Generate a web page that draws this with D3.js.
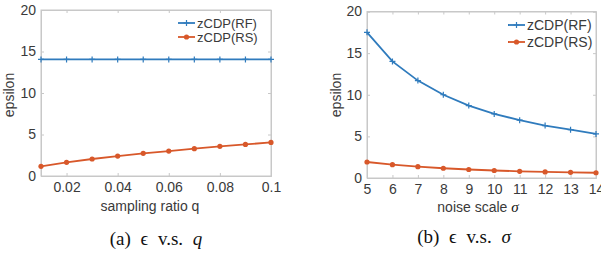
<!DOCTYPE html>
<html>
<head>
<meta charset="utf-8">
<script src="https://cdn.jsdelivr.net/npm/d3@7"></script>
<style>
  body { margin: 0; background: #fff; }
  text { font-family: "Liberation Sans", Arial, sans-serif; fill: #3a3a3a; }
  .cap { font-family: "Liberation Serif", "Times New Roman", serif; fill: #111; }
</style>
</head>
<body>
<div id="chart"></div>
<script>
// Data
var samplingRatio = [0.01, 0.02, 0.03, 0.04, 0.05, 0.06, 0.07, 0.08, 0.09, 0.1];
var rfByRatio = [14.05, 14.05, 14.05, 14.05, 14.05, 14.05, 14.05, 14.05, 14.05, 14.05];
var rsByRatio = [1.17, 1.65, 2.05, 2.4, 2.73, 3.0, 3.29, 3.57, 3.8, 4.05];

var noiseScale = [5, 6, 7, 8, 9, 10, 11, 12, 13, 14];
var rfByNoise = [17.5, 14.0, 11.7, 10.0, 8.7, 7.7, 6.95, 6.3, 5.8, 5.3];
var rsByNoise = [1.92, 1.6, 1.36, 1.17, 1.02, 0.9, 0.8, 0.73, 0.68, 0.63];

var ratioTicks = [0.02, 0.04, 0.06, 0.08, 0.1];
var yTicks = [0, 5, 10, 15, 20];
var seriesNames = ["zCDP(RF)", "zCDP(RS)"];

var blue = "#2f7bbd";
var orange = "#d8582a";

var svg = d3.select("#chart")
  .append("svg")
  .attr("width", 601)
  .attr("height", 256);

function drawPanel(opt) {
  var x = d3.scaleLinear().domain(opt.xDomain).range([opt.left, opt.right]);
  var y = d3.scaleLinear().domain([0, 20]).range([opt.bottom, opt.top]);
  var g = svg.append("g");

  // box
  g.append("rect")
    .attr("x", opt.left).attr("y", opt.top)
    .attr("width", opt.right - opt.left).attr("height", opt.bottom - opt.top)
    .attr("fill", "none").attr("stroke", "#c8c8c8").attr("stroke-width", 1);

  // axes
  var bottomAxis = d3.axisBottom(x).tickValues(opt.xTicks).tickSize(-3).tickPadding(6)
    .tickFormat(opt.xFormat);
  var leftAxis = d3.axisLeft(y).tickValues(yTicks).tickSize(-3).tickPadding(5);
  var topAxis = d3.axisTop(x).tickValues(opt.xTicks).tickSize(-3).tickFormat("");
  var rightAxis = d3.axisRight(y).tickValues(yTicks).tickSize(-3).tickFormat("");

  var ax = [
    g.append("g").attr("transform", `translate(0, ${opt.bottom})`).call(bottomAxis),
    g.append("g").attr("transform", `translate(${opt.left}, 0)`).call(leftAxis),
    g.append("g").attr("transform", `translate(0, ${opt.top})`).call(topAxis),
    g.append("g").attr("transform", `translate(${opt.right}, 0)`).call(rightAxis)
  ];
  ax.forEach(function(a) {
    a.select(".domain").attr("stroke", "#c8c8c8");
    a.selectAll(".tick line").attr("stroke", "#c8c8c8");
    a.selectAll("text").style("font-size", "14px").attr("fill", "#3a3a3a");
  });

  // lines
  var series = [
    { name: seriesNames[0], values: opt.rf, color: blue },
    { name: seriesNames[1], values: opt.rs, color: orange }
  ];
  var line = d3.line().x(d => x(d[0])).y(d => y(d[1]));

  series.forEach(function(s, i) {
    var pts = opt.xs.map((v, k) => [v, s.values[k]]);
    g.append("path")
      .datum(pts)
      .attr("d", line)
      .attr("fill", "none")
      .attr("stroke", s.color)
      .attr("stroke-width", 1.8);
    if (i === 0) {
      g.selectAll(null).data(pts).enter().append("path")
        .attr("d", d => `M${x(d[0]) - 3},${y(d[1])}h6M${x(d[0])},${y(d[1]) - 3}v6`)
        .attr("stroke", s.color).attr("stroke-width", 1.2);
    } else {
      g.selectAll(null).data(pts).enter().append("circle")
        .attr("cx", d => x(d[0])).attr("cy", d => y(d[1]))
        .attr("r", 2.6).attr("fill", s.color);
    }
  });

  // legend
  series.forEach(function(s, i) {
    var ly = opt.legY + i * opt.legGap;
    g.append("line")
      .attr("x1", opt.legX).attr("x2", opt.legX + 17)
      .attr("y1", ly).attr("y2", ly)
      .attr("stroke", s.color).attr("stroke-width", 1.8);
    if (i === 0) {
      g.append("path")
        .attr("d", `M${opt.legX + 5.5},${ly}h6M${opt.legX + 8.5},${ly - 3}v6`)
        .attr("stroke", s.color).attr("stroke-width", 1.2);
    } else {
      g.append("circle").attr("cx", opt.legX + 8.5).attr("cy", ly).attr("r", 2.6).attr("fill", s.color);
    }
    g.append("text")
      .attr("x", opt.legX + 19).attr("y", ly + 4.5)
      .style("font-size", opt.legFont)
      .text(s.name);
  });

  // axis labels
  g.append("text")
    .attr("transform", `translate(${opt.yLabelX}, ${opt.yLabelY}) rotate(-90)`)
    .style("text-anchor", "middle")
    .style("font-size", "14px")
    .text("epsilon");

  var xl = g.append("text")
    .attr("x", opt.xLabelX).attr("y", opt.xLabelY)
    .style("text-anchor", "middle")
    .style("font-size", "14px");
  opt.xLabel(xl);

  var cap = g.append("text")
    .attr("class", "cap")
    .attr("x", opt.capX).attr("y", opt.capY)
    .style("text-anchor", "middle")
    .style("font-size", "19px")
    .style("word-spacing", "5px");
  opt.caption(cap);
}

drawPanel({
  left: 41, right: 271, top: 10, bottom: 176,
  xDomain: [0.01, 0.1], xTicks: ratioTicks, xFormat: d3.format("~g"),
  xs: samplingRatio, rf: rfByRatio, rs: rsByRatio,
  legX: 178, legY: 23, legGap: 14, legFont: "13px",
  yLabelX: 14, yLabelY: 95, xLabelX: 150, xLabelY: 211,
  xLabel: function(t) { t.text("sampling ratio q"); },
  capX: 156, capY: 245,
  caption: function(t) {
    t.append("tspan").text("(a) \u03F5 v.s. ");
    t.append("tspan").style("font-style", "italic").text("q");
  }
});

drawPanel({
  left: 367, right: 596, top: 11.5, bottom: 178,
  xDomain: [5, 14], xTicks: noiseScale, xFormat: d3.format("d"),
  xs: noiseScale, rf: rfByNoise, rs: rsByNoise,
  legX: 508, legY: 25, legGap: 17, legFont: "14px",
  yLabelX: 341, yLabelY: 95, xLabelX: 478, xLabelY: 212,
  xLabel: function(t) {
    t.append("tspan").text("noise scale   ");
    t.append("tspan").attr("class", "cap").style("font-style", "italic").style("font-size", "15px").text("\u03C3");
  },
  capX: 464, capY: 243,
  caption: function(t) {
    t.append("tspan").text("(b) \u03F5 v.s. ");
    t.append("tspan").style("font-style", "italic").text("\u03C3");
  }
});
</script>
</body>
</html>
